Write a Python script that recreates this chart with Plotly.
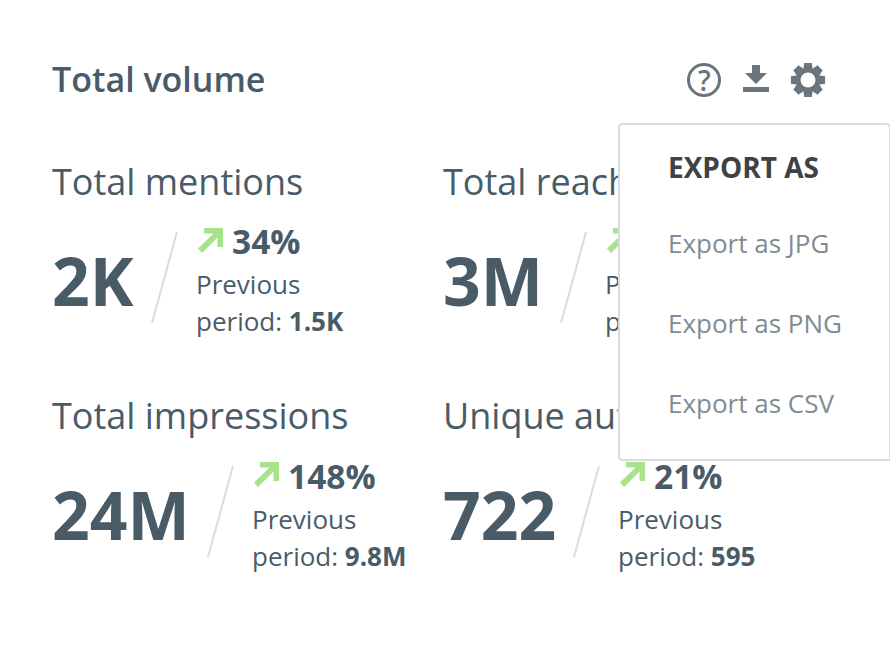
import numpy as np
import plotly.graph_objects as go

# card contents, the menu hides the reach figures so those stay empty
card_title = "Total volume"
metric_titles = ["Total mentions", "Total reach", "Total impressions", "Unique authors"]
metric_values = ["2K", "3M", "24M", "722"]
delta_labels = ["34%", "", "148%", "21%"]
previous_labels = ["1.5K", "", "9.8M", "595"]
export_title = "EXPORT AS"
export_options = ["Export as JPG", "Export as PNG", "Export as CSV"]

FONT = "Open Sans"
TEXT_COLOR = "#4a5b68"
ICON_COLOR = "#69747c"
GREEN = "#a8e28d"
LINE_COLOR = "#d8dcdf"

# layout of the four blocks, in page pixels
left = [52, 443, 52, 443]
top = [182, 182, 416, 416]
detail_x = [196, 605, 252, 618]
detail_y = [182, 182, 417, 417]
slash_x = [177, 586, 233, 599]


def arrow_path(x, y):
    pts = [(6, 0), (25, 0), (25, 19), (19.5, 19), (19.5, 9.5), (4, 25), (0, 20.5), (15.5, 5.5), (6, 5.5)]
    return "M" + " L".join(f"{x + a},{y + b}" for a, b in pts) + " Z"


def gear_path(cx, cy, teeth=8, outer=17.5, inner=12.5):
    pts = []
    step = 2 * np.pi / teeth
    for i in range(teeth):
        a = i * step - np.pi / 2
        for da, r in [(-0.30, inner), (-0.17, outer), (0.17, outer), (0.30, inner)]:
            pts.append((cx + r * np.cos(a + da * step * 1.6), cy + r * np.sin(a + da * step * 1.6)))
    return "M" + " L".join(f"{px:.2f},{py:.2f}" for px, py in pts) + " Z"


fig = go.Figure()


def add_text(xs, ys, labels, size, weight=400, color=TEXT_COLOR):
    fig.add_trace(go.Scatter(x=xs, y=ys, text=labels, mode="text", textposition="middle right",
                             textfont=dict(family=FONT, size=size, color=color, weight=weight), hoverinfo="skip"))


add_text([52], [83], [card_title], 34, weight=600)
add_text(left, [t + 4 for t in top], metric_titles, 36)
add_text(left, [t + 107 for t in top], metric_values, 66, weight=700)
add_text([d + 36 for d in detail_x], [t + 64 for t in detail_y], delta_labels, 33.5, weight=700)
add_text(detail_x, [t + 105 for t in detail_y], ["Previous"] * 4, 26)
add_text(detail_x, [t + 142 for t in detail_y], [f"period: <b>{p}</b>" for p in previous_labels], 26)

shapes = []
# slashes and arrows sit under the text, the menu covers them
for i in range(4):
    shapes.append(dict(type="line", x0=slash_x[i], y0=top[i] + 50, x1=slash_x[i] - 25, y1=top[i] + 141,
                       line=dict(color=LINE_COLOR, width=2), layer="below"))
    shapes.append(dict(type="path", path=arrow_path(detail_x[i] + 2, top[i] + 46), fillcolor=GREEN,
                       line=dict(width=0), layer="below"))

# header icons
shapes.append(dict(type="circle", x0=688.5, y0=64.5, x1=719.5, y1=95.5, line=dict(color=ICON_COLOR, width=3)))
shapes.append(dict(type="path", path="M752,65 L760,65 L760,73 L767,73 L756,84 L745,73 L752,73 Z",
                   fillcolor=ICON_COLOR, line=dict(width=0)))
shapes.append(dict(type="rect", x0=743, y0=87, x1=769, y1=92, fillcolor=ICON_COLOR, line=dict(width=0)))
shapes.append(dict(type="path", path=gear_path(808, 80), fillcolor=ICON_COLOR, line=dict(width=0)))
shapes.append(dict(type="circle", x0=800.5, y0=72.5, x1=815.5, y1=87.5, fillcolor="white", line=dict(width=0)))

# export menu
shapes.append(dict(type="path",
                   path="M623,124 L886,124 Q890,124 890,128 L890,460 L623,460 Q619,460 619,456 L619,128 Q619,124 623,124 Z",
                   fillcolor="white", line=dict(color=LINE_COLOR, width=2), layer="above"))

annotations = [dict(x=704, y=80, text="?", showarrow=False, xanchor="center", yanchor="middle",
                    font=dict(family=FONT, size=28, color=ICON_COLOR, weight=600)),
               dict(x=666, y=167, text=export_title, showarrow=False, xanchor="left", yanchor="middle",
                    font=dict(family=FONT, size=28, color="#3f4144", weight=700))]
for k, option in enumerate(export_options):
    annotations.append(dict(x=666, y=243 + 80 * k, text=option, showarrow=False, xanchor="left", yanchor="middle",
                            font=dict(family=FONT, size=26, color="#7f8b93")))

fig.update_layout(width=890, height=652, margin=dict(l=0, r=0, t=0, b=0), showlegend=False,
                  paper_bgcolor="white", plot_bgcolor="white", shapes=shapes, annotations=annotations,
                  xaxis=dict(range=[0, 890], visible=False, fixedrange=True),
                  yaxis=dict(range=[652, 0], visible=False, fixedrange=True))

fig.write_html("out.html", config={"displayModeBar": False},
               post_script="document.body.style.margin='0';document.body.style.overflow='hidden';")
